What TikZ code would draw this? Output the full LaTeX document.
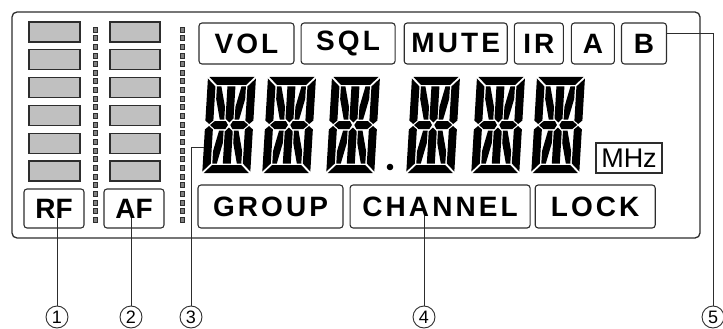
\documentclass[tikz,border=0pt]{standalone}
\usepackage{fontspec}
\setmainfont{Liberation Sans}
\usetikzlibrary{positioning}
\definecolor{lcdline}{RGB}{45,45,45}
\definecolor{lcdgray}{RGB}{192,192,192}
\tikzset{
frame/.style={draw=lcdline, line width=1.3pt, rounded corners=5pt}, % outline of the display
bar/.style={draw=lcdline, line width=1.1pt, fill=lcdgray}, % level meter bars
pip/.style={draw=lcdline, line width=0.8pt, fill=gray}, % small squares beside the meters
tag/.style={draw=lcdline, line width=1.1pt, rounded corners=3pt, inner sep=0pt,
  minimum height=41pt, font=\bfseries\fontsize{28}{28}\selectfont\addfontfeatures{LetterSpace=11}},
meter/.style={tag, minimum width=60pt, minimum height=39pt,
  font=\bfseries\fontsize{28}{28}\selectfont}, % RF and AF, no extra spacing
mhzbox/.style={draw=lcdline, line width=1.1pt, inner sep=0pt, minimum width=66pt,
  minimum height=30pt, font=\fontsize{27}{27}\selectfont},
callout/.style={draw=lcdline, line width=1pt},
num/.style={circle, draw=lcdline, line width=0.9pt, minimum size=22pt, inner sep=0pt,
  font=\fontsize{18}{18}\selectfont},
seg/.style={fill=black}
}
% one 14 segment character, #1 = name of its left point, #2 = x of its top left corner
\newcommand\lcdchar[2]{%
  \begin{scope}[shift={(#2,77)}, xslant=0.06]
    \fill[seg] (1.5,0) -- (46.5,0) -- (38.5,8) -- (9.5,8) -- cycle
      (1.5,96) -- (46.5,96) -- (38.5,88) -- (9.5,88) -- cycle
      (0,1.5) -- (8,9.5) -- (8,43.5) -- (4,47) -- (0,43.5) -- cycle
      (0,52.5) -- (4,49) -- (8,52.5) -- (8,86.5) -- (0,94.5) -- cycle
      (48,1.5) -- (40,9.5) -- (40,43.5) -- (44,47) -- (48,43.5) -- cycle
      (48,52.5) -- (44,49) -- (40,52.5) -- (40,86.5) -- (48,94.5) -- cycle
      (5,48) -- (9.5,44) -- (20.5,44) -- (22.8,48) -- (20.5,52) -- (9.5,52) -- cycle
      (25.2,48) -- (27.5,44) -- (38.5,44) -- (43,48) -- (38.5,52) -- (27.5,52) -- cycle
      (20,9.5) -- (28,9.5) -- (28,41.5) -- (24,45.5) -- (20,41.5) -- cycle
      (20,86.5) -- (28,86.5) -- (28,54.5) -- (24,50.5) -- (20,54.5) -- cycle
      (9.5,9.5) -- (14,9.5) -- (18.8,30) -- (18.8,42.5) -- (14.3,42.5) -- (9.5,22) -- cycle
      (38.5,9.5) -- (34,9.5) -- (29.2,30) -- (29.2,42.5) -- (33.7,42.5) -- (38.5,22) -- cycle
      (9.5,86.5) -- (14,86.5) -- (18.8,66) -- (18.8,53.5) -- (14.3,53.5) -- (9.5,74) -- cycle
      (38.5,86.5) -- (34,86.5) -- (29.2,66) -- (29.2,53.5) -- (33.7,53.5) -- (38.5,74) -- cycle;
    \coordinate (#1) at (0,70);
  \end{scope}}

\begin{document}
\begin{tikzpicture}[x=1pt, y=-1pt]
  \useasboundingbox (0,0) rectangle (723,329);
  \draw[frame] (12,12) rectangle (700,238);

  % meters
  \foreach \i in {0,...,5} {
    \draw[bar] (29,{22+27.8*\i}) rectangle ++(51,20);
    \draw[bar] (110,{22+27.8*\i}) rectangle ++(50,20);
  }
  \foreach \j in {0,...,22} {
    \draw[pip] (93,{27+8.65*\j}) rectangle ++(4.5,5);
    \draw[pip] (180,{27+8.65*\j}) rectangle ++(4.5,5);
  }
  \node[meter] (rf) at (54,208.5) {RF};
  \node[meter] (af) at (134,208.5) {AF};

  % indicators
  \node[tag, minimum width=95pt] (vol) at (246.5,43.5) {VOL};
  \node[tag, minimum width=94pt, right=6pt of vol] (sql) {SQL};
  \node[tag, minimum width=103pt, right=8pt of sql] (mute) {MUTE};
  \node[tag, minimum width=49pt, right=6pt of mute] (ir) {IR};
  \node[tag, minimum width=43pt, right=7pt of ir] (a) {A};
  \node[tag, minimum width=45pt, right=6pt of a] (b) {B};

  \node[tag, minimum width=145pt, minimum height=43pt] (group) at (270.5,206.5) {GROUP};
  \node[tag, minimum width=180pt, minimum height=43pt, right=6pt of group] (channel) {CHANNEL};
  \node[tag, minimum width=120pt, minimum height=43pt, right=4pt of channel] (lock) {LOCK};

  % frequency
  \lcdchar{d1}{208}
  \lcdchar{d2}{268}
  \lcdchar{d3}{332}
  \lcdchar{d4}{412}
  \lcdchar{d5}{477}
  \lcdchar{d6}{537}
  \fill (390,167) circle (3.3);
  \node[mhzbox] (mhz) at (629,158) {MHz};

  % callouts
  \node[num] (c1) at (57,317) {1};
  \node[num] (c2) at (131,317) {2};
  \node[num] (c3) at (191,317) {3};
  \node[num] (c4) at (424,317) {4};
  \node[num] (c5) at (713,317) {5};
  \draw[callout] (rf.base -| c1.north) -- (c1.north);
  \draw[callout] (af.base -| c2.north) -- (c2.north);
  \draw[callout] (d1) -| (c3.north);
  \draw[callout] (channel.base -| c4.north) -- (c4.north);
  \draw[callout] ([yshift=10pt]b.east) -| (c5.north);
\end{tikzpicture}
\end{document}
